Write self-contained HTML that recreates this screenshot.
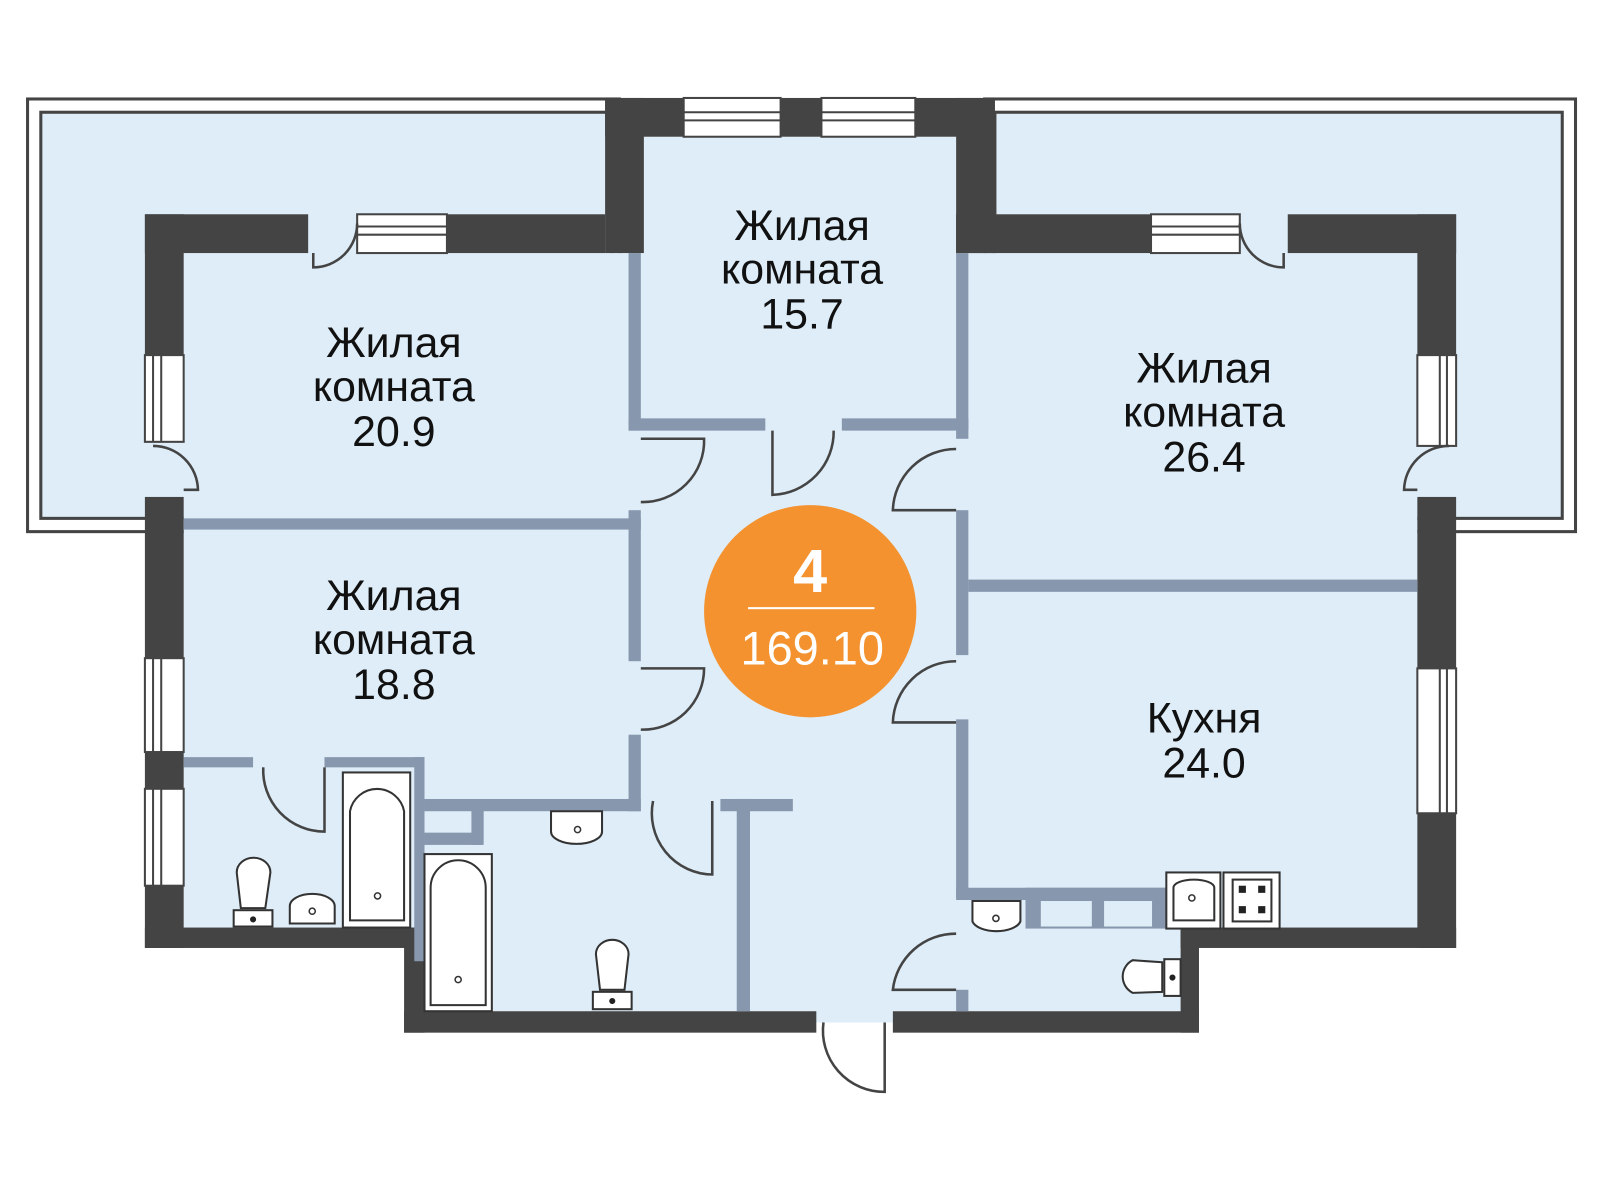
<!DOCTYPE html>
<html><head><meta charset="utf-8"><style>html,body{margin:0;padding:0;background:#fff}svg{display:block}</style></head>
<body>
<svg width="1600" height="1200" viewBox="0 0 1568 1176" xmlns="http://www.w3.org/2000/svg">
<rect width="1568" height="1176" fill="#fff"/>
<g stroke="#444" stroke-width="3">
<rect x="27" y="97" width="580" height="424" fill="#fff"/>
<rect x="40" y="110" width="560" height="398" fill="#deedf8"/>
<rect x="965" y="97" width="579" height="424" fill="#fff"/>
<rect x="975" y="110" width="556" height="398" fill="#deedf8"/>
</g>
<g fill="#deedf8">
<rect x="631" y="134" width="306" height="120"/>
<rect x="180" y="248" width="1209" height="661"/>
<rect x="416" y="900" width="759" height="91"/>
<rect x="797" y="985" width="78" height="17"/>
</g>
<g fill="#444">
<rect x="142" y="210" width="160" height="38"/>
<rect x="438" y="210" width="155" height="38"/>
<rect x="593" y="96" width="38" height="152"/>
<rect x="593" y="96" width="77" height="38"/>
<rect x="765" y="96" width="40" height="38"/>
<rect x="897" y="96" width="78" height="38"/>
<rect x="937" y="96" width="38" height="152"/>
<rect x="937" y="210" width="191" height="38"/>
<rect x="1262" y="210" width="165" height="38"/>
<rect x="1389" y="210" width="38" height="138"/>
<rect x="1389" y="487" width="38" height="168"/>
<rect x="1389" y="797" width="38" height="132"/>
<rect x="1157" y="909" width="270" height="20"/>
<rect x="1157" y="909" width="18" height="103"/>
<rect x="875" y="991" width="300" height="21"/>
<rect x="396" y="991" width="404" height="21"/>
<rect x="396" y="909" width="20" height="103"/>
<rect x="142" y="909" width="274" height="20"/>
<rect x="142" y="210" width="38" height="138"/>
<rect x="142" y="487" width="38" height="158"/>
<rect x="142" y="737" width="38" height="36"/>
<rect x="142" y="868" width="38" height="61"/>
</g>
<g fill="#fff" stroke="#444" stroke-width="2">
<rect x="670" y="96" width="95" height="38"/><line x1="670" y1="110" x2="765" y2="110"/><line x1="670" y1="118" x2="765" y2="118"/>
<rect x="805" y="96" width="92" height="38"/><line x1="805" y1="110" x2="897" y2="110"/><line x1="805" y1="118" x2="897" y2="118"/>
<rect x="350" y="210" width="88" height="38"/><line x1="350" y1="222" x2="438" y2="222"/><line x1="350" y1="230" x2="438" y2="230"/>
<rect x="1128" y="210" width="87" height="38"/><line x1="1128" y1="222" x2="1215" y2="222"/><line x1="1128" y1="230" x2="1215" y2="230"/>
<rect x="142" y="348" width="38" height="85"/><line x1="150" y1="348" x2="150" y2="433"/><line x1="158" y1="348" x2="158" y2="433"/>
<rect x="142" y="645" width="38" height="92"/><line x1="150" y1="645" x2="150" y2="737"/><line x1="158" y1="645" x2="158" y2="737"/>
<rect x="142" y="773" width="38" height="95"/><line x1="150" y1="773" x2="150" y2="868"/><line x1="158" y1="773" x2="158" y2="868"/>
<rect x="1389" y="348" width="38" height="89"/><line x1="1411" y1="348" x2="1411" y2="437"/><line x1="1418" y1="348" x2="1418" y2="437"/>
<rect x="1389" y="655" width="38" height="142"/><line x1="1411" y1="655" x2="1411" y2="797"/><line x1="1418" y1="655" x2="1418" y2="797"/>
</g>
<g fill="#8797ad">
<rect x="616" y="248" width="12" height="174"/>
<rect x="616" y="410" width="134" height="12"/>
<rect x="825" y="410" width="124" height="12"/>
<rect x="937" y="248" width="12" height="182"/>
<rect x="180" y="508" width="448" height="11"/>
<rect x="616" y="500" width="12" height="148"/>
<rect x="616" y="720" width="12" height="75"/>
<rect x="416" y="783" width="212" height="12"/>
<rect x="406" y="742" width="10" height="200"/>
<rect x="180" y="742" width="68" height="10"/>
<rect x="318" y="742" width="98" height="10"/>
<rect x="416" y="816" width="56" height="12"/>
<rect x="462" y="790" width="12" height="38"/>
<rect x="722" y="783" width="13" height="208"/>
<rect x="706" y="783" width="71" height="12"/>
<rect x="937" y="500" width="12" height="142"/>
<rect x="949" y="568" width="440" height="12"/>
<rect x="937" y="705" width="12" height="175"/>
<rect x="937" y="870" width="206" height="12"/>
<rect x="1005" y="870" width="138" height="40"/>
<rect x="937" y="970" width="12" height="21"/>
</g>
<g fill="#deedf8"><rect x="1020" y="883" width="50" height="25"/><rect x="1082" y="883" width="47" height="25"/></g>
<g fill="none" stroke="#444" stroke-width="2.5">
<path d="M307 248 V262 A43 43 0 0 0 350 219"/>
<path d="M1258 248 V262 A43 43 0 0 1 1215 219"/>
<path d="M150 437 A44 44 0 0 1 194 480 H180"/>
<path d="M1420 437 A44 44 0 0 0 1376 480 H1389"/>
<path d="M628 430 H690 A60 60 0 0 1 628 492"/>
<path d="M628 655 H690 A60 60 0 0 1 628 715"/>
<path d="M757 422 V485 A62 62 0 0 0 817 422"/>
<path d="M937 440 A62 62 0 0 0 875 500 H937"/>
<path d="M937 648 A62 62 0 0 0 875 708 H937"/>
<path d="M937 915 A62 62 0 0 0 875 970 H937"/>
<path d="M258 752 A60 60 0 0 0 318 815 V752"/>
<path d="M640 785 A60 60 0 0 0 698 857 V785"/>
<path d="M807 1002 A60 60 0 0 0 867 1070 V1002"/>
</g>
<g fill="#fff" stroke="#333" stroke-width="2">
<rect x="336" y="757" width="66" height="152"/>
<path d="M343 902 V795 A27 27 0 0 1 396 795 V902 Z"/>
<rect x="416" y="837" width="66" height="154"/>
<path d="M422 985 V870 A27 27 0 0 1 476 870 V985 Z"/>
<rect x="229" y="892" width="38" height="16"/>
<path d="M236 890 L232 855 A16 14 0 0 1 265 855 L260 890 Z"/>
<rect x="581" y="972" width="38" height="17"/>
<path d="M588 970 L584 935 A16 14 0 0 1 616 935 L612 970 Z"/>
<path d="M284 905 V888 A22 12 0 0 1 328 888 V905 Z"/>
<path d="M540 795 H590 V815 A25 12 0 0 1 540 815 Z"/>
<path d="M953 883 H1000 V903 A24 12 0 0 1 953 903 Z"/>
<rect x="1143" y="855" width="53" height="55"/>
<path d="M1150 870 A20 8 0 0 1 1190 870 V902 H1150 Z"/>
<rect x="1199" y="855" width="55" height="55"/>
<rect x="1208" y="862" width="38" height="41"/>
<rect x="1141" y="940" width="16" height="36"/>
<path d="M1139 943 L1110 941 A18 18 0 0 0 1110 973 L1139 972 Z"/>
</g>
<g fill="#fff" stroke="#333" stroke-width="1.5">
<circle cx="370" cy="878" r="3"/><circle cx="449" cy="960" r="3"/><circle cx="566" cy="813" r="3"/><circle cx="976" cy="900" r="3"/><circle cx="1168" cy="880" r="3"/><circle cx="306" cy="893" r="3"/>
</g>
<g fill="#222"><circle cx="248" cy="901" r="3"/><circle cx="600" cy="981" r="3"/><circle cx="1149" cy="958" r="3"/>
<rect x="1214" y="868" width="7" height="7"/><rect x="1233" y="868" width="7" height="7"/><rect x="1214" y="888" width="7" height="7"/><rect x="1233" y="888" width="7" height="7"/></g>
<g font-family="Liberation Sans, sans-serif" font-size="42" fill="#111" text-anchor="middle">
<text x="386" y="350">Жилая</text><text x="386" y="393">комната</text><text x="386" y="437">20.9</text>
<text x="786" y="235">Жилая</text><text x="786" y="278">комната</text><text x="786" y="322">15.7</text>
<text x="1180" y="375">Жилая</text><text x="1180" y="418">комната</text><text x="1180" y="462">26.4</text>
<text x="386" y="598">Жилая</text><text x="386" y="641">комната</text><text x="386" y="685">18.8</text>
<text x="1180" y="718">Кухня</text><text x="1180" y="762">24.0</text>
</g>
<circle cx="794" cy="599" r="104" fill="#f4922f"/>
<text x="794" y="580" font-family="Liberation Sans, sans-serif" font-size="60" font-weight="bold" fill="#fff" text-anchor="middle">4</text>
<rect x="733" y="595" width="124" height="2" fill="#fff"/>
<text x="796" y="651" font-family="Liberation Sans, sans-serif" font-size="46" fill="#fff" text-anchor="middle">169.10</text>
</svg>
</body></html>
